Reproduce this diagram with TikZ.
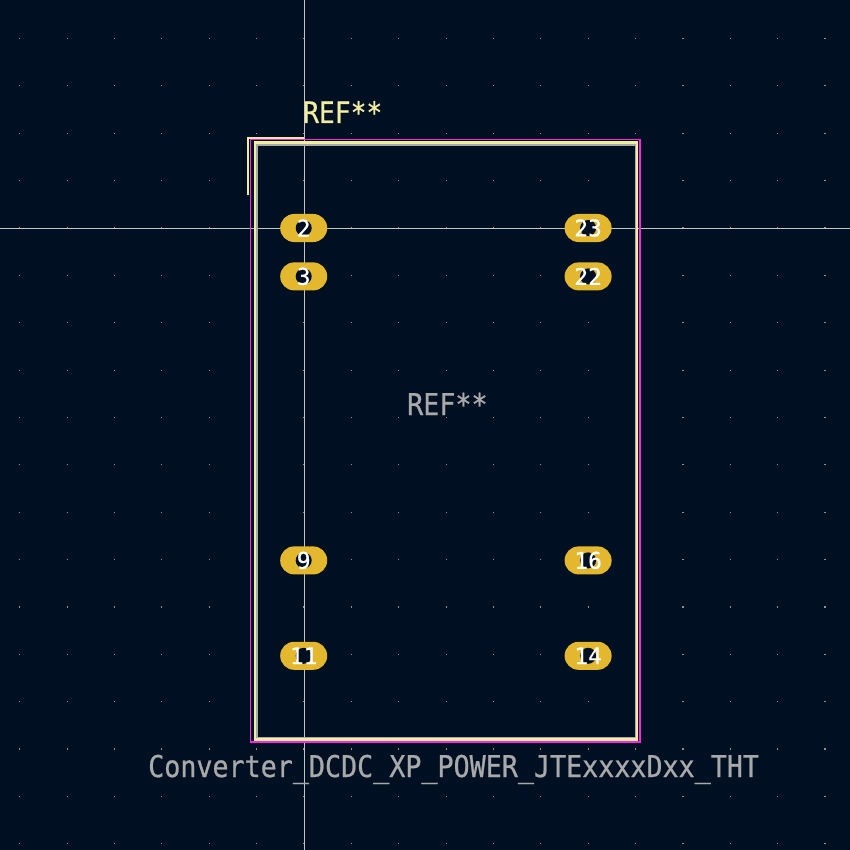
\documentclass[tikz,border=0pt]{standalone}
\usepackage{fontspec}
\newfontfamily\strokefont[FakeStretch=0.89,FakeBold=0.7]{DejaVu Sans Mono}
\newfontfamily\padfont[FakeBold=0.5]{DejaVu Sans Mono}
\usetikzlibrary{positioning}
\definecolor{board_bg}{HTML}{001023}
\definecolor{pad_gold}{HTML}{E3B72E}
\definecolor{silk_yellow}{HTML}{F2EDA1}
\definecolor{court_magenta}{HTML}{FF26E2}
\definecolor{fab_gray}{HTML}{A9A9A9}
\definecolor{cross_gray}{HTML}{C4C4C4}
\definecolor{grid_gray}{HTML}{8C9299}
\tikzset{
    pin_pad/.style={rectangle, rounded corners=13.9pt, minimum width=47pt, minimum height=28pt, inner sep=0pt, fill=pad_gold, text=white, text centered, align=center, font=\padfont\fontsize{23}{23}\selectfont, path picture={\fill [board_bg] (path picture bounding box.center) circle (8pt);}},
    silk_text/.style={anchor=base west, inner sep=0pt, text=silk_yellow, font=\strokefont\fontsize{29.5}{30}\selectfont},
    fab_text/.style={anchor=base west, inner sep=0pt, text=fab_gray, font=\strokefont\fontsize{30}{30}\selectfont},
    cross_line/.style={draw=cross_gray, line width=1pt},
    silk_line/.style={draw=silk_yellow, line width=2.4pt},
    fab_line/.style={draw=fab_gray, line width=2pt},
    court_line/.style={draw=court_magenta, line width=1.6pt},
}
\begin{document}
\begin{tikzpicture}[x=1pt, y=-1pt, node distance=20pt]
      \useasboundingbox (0,0) rectangle (850,850);
      \fill [board_bg] (0,0) rectangle (850,850);

      %%%%%%%%
      % Grid %
      %%%%%%%%
      \foreach \i in {-6,...,11}
          \foreach \j in {-4,...,13}
              \fill [grid_gray] (304+\i*47.37-0.6, 228+\j*47.37-0.6) rectangle ++(1.2,1.2);

      % crosshair
      \coordinate (cross_left) at (0,228);
      \coordinate (cross_right) at (850,228);
      \coordinate (cross_top) at (304,0);
      \coordinate (cross_bottom) at (304,850);
      \draw [cross_line] (cross_left) -- (cross_right);
      \draw [cross_line] (cross_top) -- (cross_bottom);

      %%%%%%%%%%%
      % Outline %
      %%%%%%%%%%%
      \draw [fab_line] (256.5,144.9) rectangle (635.5,738);
      \draw [silk_line] (254.7,142.6) rectangle (637,739.6);
      \draw [court_line] (250.5,139.6) rectangle (639.7,742);
      \draw [silk_line] (248,195) -- (248,138) -- (304,138);

      %%%%%%%%
      % Pads %
      %%%%%%%%
      \node (pad2) [pin_pad] at (303.7,228)
          {2};
      \node (pad3) [pin_pad, below = of pad2]
          {3};
      \node (pad9) [pin_pad, below = 255.6pt of pad3]
          {9};
      \node (pad11) [pin_pad, below = 67pt of pad9]
          {11};
      \node (pad23) [pin_pad, right = 237pt of pad2]
          {23};
      \node (pad22) [pin_pad, below = of pad23]
          {22};
      \node (pad16) [pin_pad, below = 255.6pt of pad22]
          {16};
      \node (pad14) [pin_pad, below = 67pt of pad16]
          {14};

      %%%%%%%%%
      % Texts %
      %%%%%%%%%
      \node (ref_silk) [silk_text] at (303,123)
          {REF**};
      \node (ref_fab) [fab_text] at (407,415)
          {REF**};
      \node (value_fab) [fab_text] at (148,777)
          {Converter\_DCDC\_XP\_POWER\_JTExxxxDxx\_THT};

    \end{tikzpicture}
\end{document}
